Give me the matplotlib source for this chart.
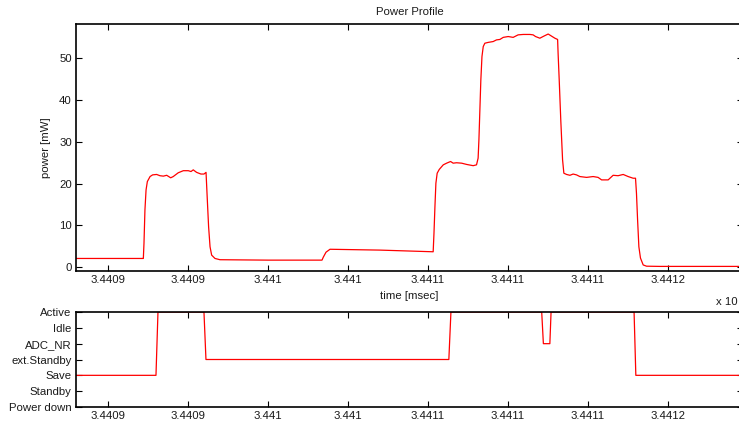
import matplotlib
matplotlib.use("Agg")
import matplotlib.pyplot as plt

plt.rcParams['font.family'] = ['Liberation Sans', 'DejaVu Sans']
plt.rcParams['font.size'] = 8.2

# Measured supply power over time (time in msec, power in mW)
power_time = [
    34408.300, 34408.500, 34408.718, 34408.721, 34408.725, 34408.731, 34408.738,
    34408.746, 34408.763, 34408.779, 34408.804, 34408.825, 34408.846, 34408.867,
    34408.892, 34408.908, 34408.939, 34408.971, 34409.002, 34409.019, 34409.033,
    34409.054, 34409.081, 34409.100, 34409.113, 34409.121, 34409.129, 34409.138,
    34409.148, 34409.169, 34409.200, 34409.500, 34409.838, 34409.846, 34409.863,
    34409.888, 34410.200, 34410.533, 34410.538, 34410.544, 34410.550, 34410.558,
    34410.571, 34410.596, 34410.617, 34410.642, 34410.658, 34410.679, 34410.711,
    34410.742, 34410.783, 34410.804, 34410.814, 34410.819, 34410.831, 34410.838,
    34410.846, 34410.856, 34410.877, 34410.908, 34410.929, 34410.950, 34410.971,
    34411.002, 34411.033, 34411.064, 34411.096, 34411.138, 34411.158, 34411.173,
    34411.200, 34411.225, 34411.252, 34411.273, 34411.294, 34411.311, 34411.314,
    34411.321, 34411.331, 34411.342, 34411.350, 34411.367, 34411.388, 34411.408,
    34411.429, 34411.450, 34411.492, 34411.533, 34411.564, 34411.586, 34411.627,
    34411.658, 34411.689, 34411.721, 34411.752, 34411.783, 34411.798, 34411.804,
    34411.811, 34411.819, 34411.829, 34411.846, 34411.867, 34411.950, 34412.500,
]
power_mw = [
    2.1, 2.1, 2.1, 2.1, 5.7, 13.7, 18.5,
    20.5, 21.7, 22.1, 22.2, 21.9, 21.8, 22.0,
    21.4, 21.7, 22.6, 23.1, 23.1, 22.9, 23.3,
    22.7, 22.3, 22.3, 22.7, 16.1, 9.7, 4.9,
    2.9, 2.1, 1.8, 1.7, 1.7, 2.4, 3.6,
    4.3, 4.1, 3.7, 8.1, 14.5, 20.1, 22.5,
    23.4, 24.5, 24.9, 25.3, 24.9, 25.0, 24.9,
    24.6, 24.3, 24.5, 26.1, 30.5, 44.8, 50.4,
    52.8, 53.6, 53.8, 54.0, 54.4, 54.5, 55.0,
    55.2, 55.0, 55.6, 55.7, 55.7, 55.6, 55.2,
    54.8, 55.3, 55.8, 55.3, 54.8, 54.5, 51.2,
    44.8, 35.0, 25.7, 22.5, 22.2, 22.0, 22.3,
    22.1, 21.7, 21.5, 21.7, 21.5, 20.9, 20.9,
    22.0, 21.9, 22.2, 21.7, 21.3, 21.3, 17.7,
    11.3, 4.9, 2.2, 0.55, 0.25, 0.2, 0.2,
]

# Controller sleep-mode sequence
state_levels = ['Power down', 'Standby', 'Save', 'ext.Standby', 'ADC_NR', 'Idle', 'Active']
state_time = [
    34408.300, 34408.800, 34408.8125, 34409.100, 34409.1125, 34410.631,
    34410.644, 34411.2115, 34411.222, 34411.2625, 34411.270, 34411.789,
    34411.800, 34412.500,
]
state_name = [
    'Save', 'Save', 'Active', 'Active', 'ext.Standby', 'ext.Standby',
    'Active', 'Active', 'ADC_NR', 'ADC_NR', 'Active', 'Active',
    'Save', 'Save',
]

x_ticks = [34408.5, 34409.0, 34409.5, 34410.0, 34410.5, 34411.0, 34411.5, 34412.0]
x_tick_labels = ['3.4409', '3.4409', '3.441', '3.441', '3.4411', '3.4411', '3.4411', '3.4412']
power_ticks = [0, 10, 20, 30, 40, 50]

W, H = 739, 428
fig = plt.figure(figsize=(W / 100, H / 100), dpi=100)
ax1 = fig.add_axes([76 / W, 1 - 271 / H, 667 / W, 247 / H])
ax2 = fig.add_axes([76 / W, 1 - 407 / H, 667 / W, 95 / H])

text_color = '#1a1a1a'
for ax in (ax1, ax2):
    ax.set_xlim(34408.30, 34412.47)
    ax.set_xticks(x_ticks)
    ax.set_xticklabels(x_tick_labels)
    ax.tick_params(direction='in', length=4.3, width=0.8, top=True, right=True,
                   pad=3, labelsize=8.2, labelcolor=text_color)
    for sp in ax.spines.values():
        sp.set_linewidth(1.2)

ax1.plot(power_time, power_mw, color='#ff0000', lw=0.9)
ax1.set_ylim(-0.9, 58.2)
ax1.set_yticks(power_ticks)
ax1.set_title('Power Profile', fontsize=8.2, pad=6.5, color=text_color)
ax1.set_xlabel('time [msec]', labelpad=4.5, color=text_color)
ax1.set_ylabel('power [mW]', labelpad=6, color=text_color)

state_value = [state_levels.index(s) for s in state_name]
ax2.plot(state_time, state_value, color='#ff0000', lw=0.9)
ax2.set_ylim(0, 6)
ax2.set_yticks(range(len(state_levels)))
ax2.set_yticklabels(state_levels)

# time-axis scale factor
fig.text(738 / W, 1 - 302 / H, 'x 10', ha='right', va='center',
         fontsize=8.2, color=text_color)

fig.savefig('out.png', dpi=100)
